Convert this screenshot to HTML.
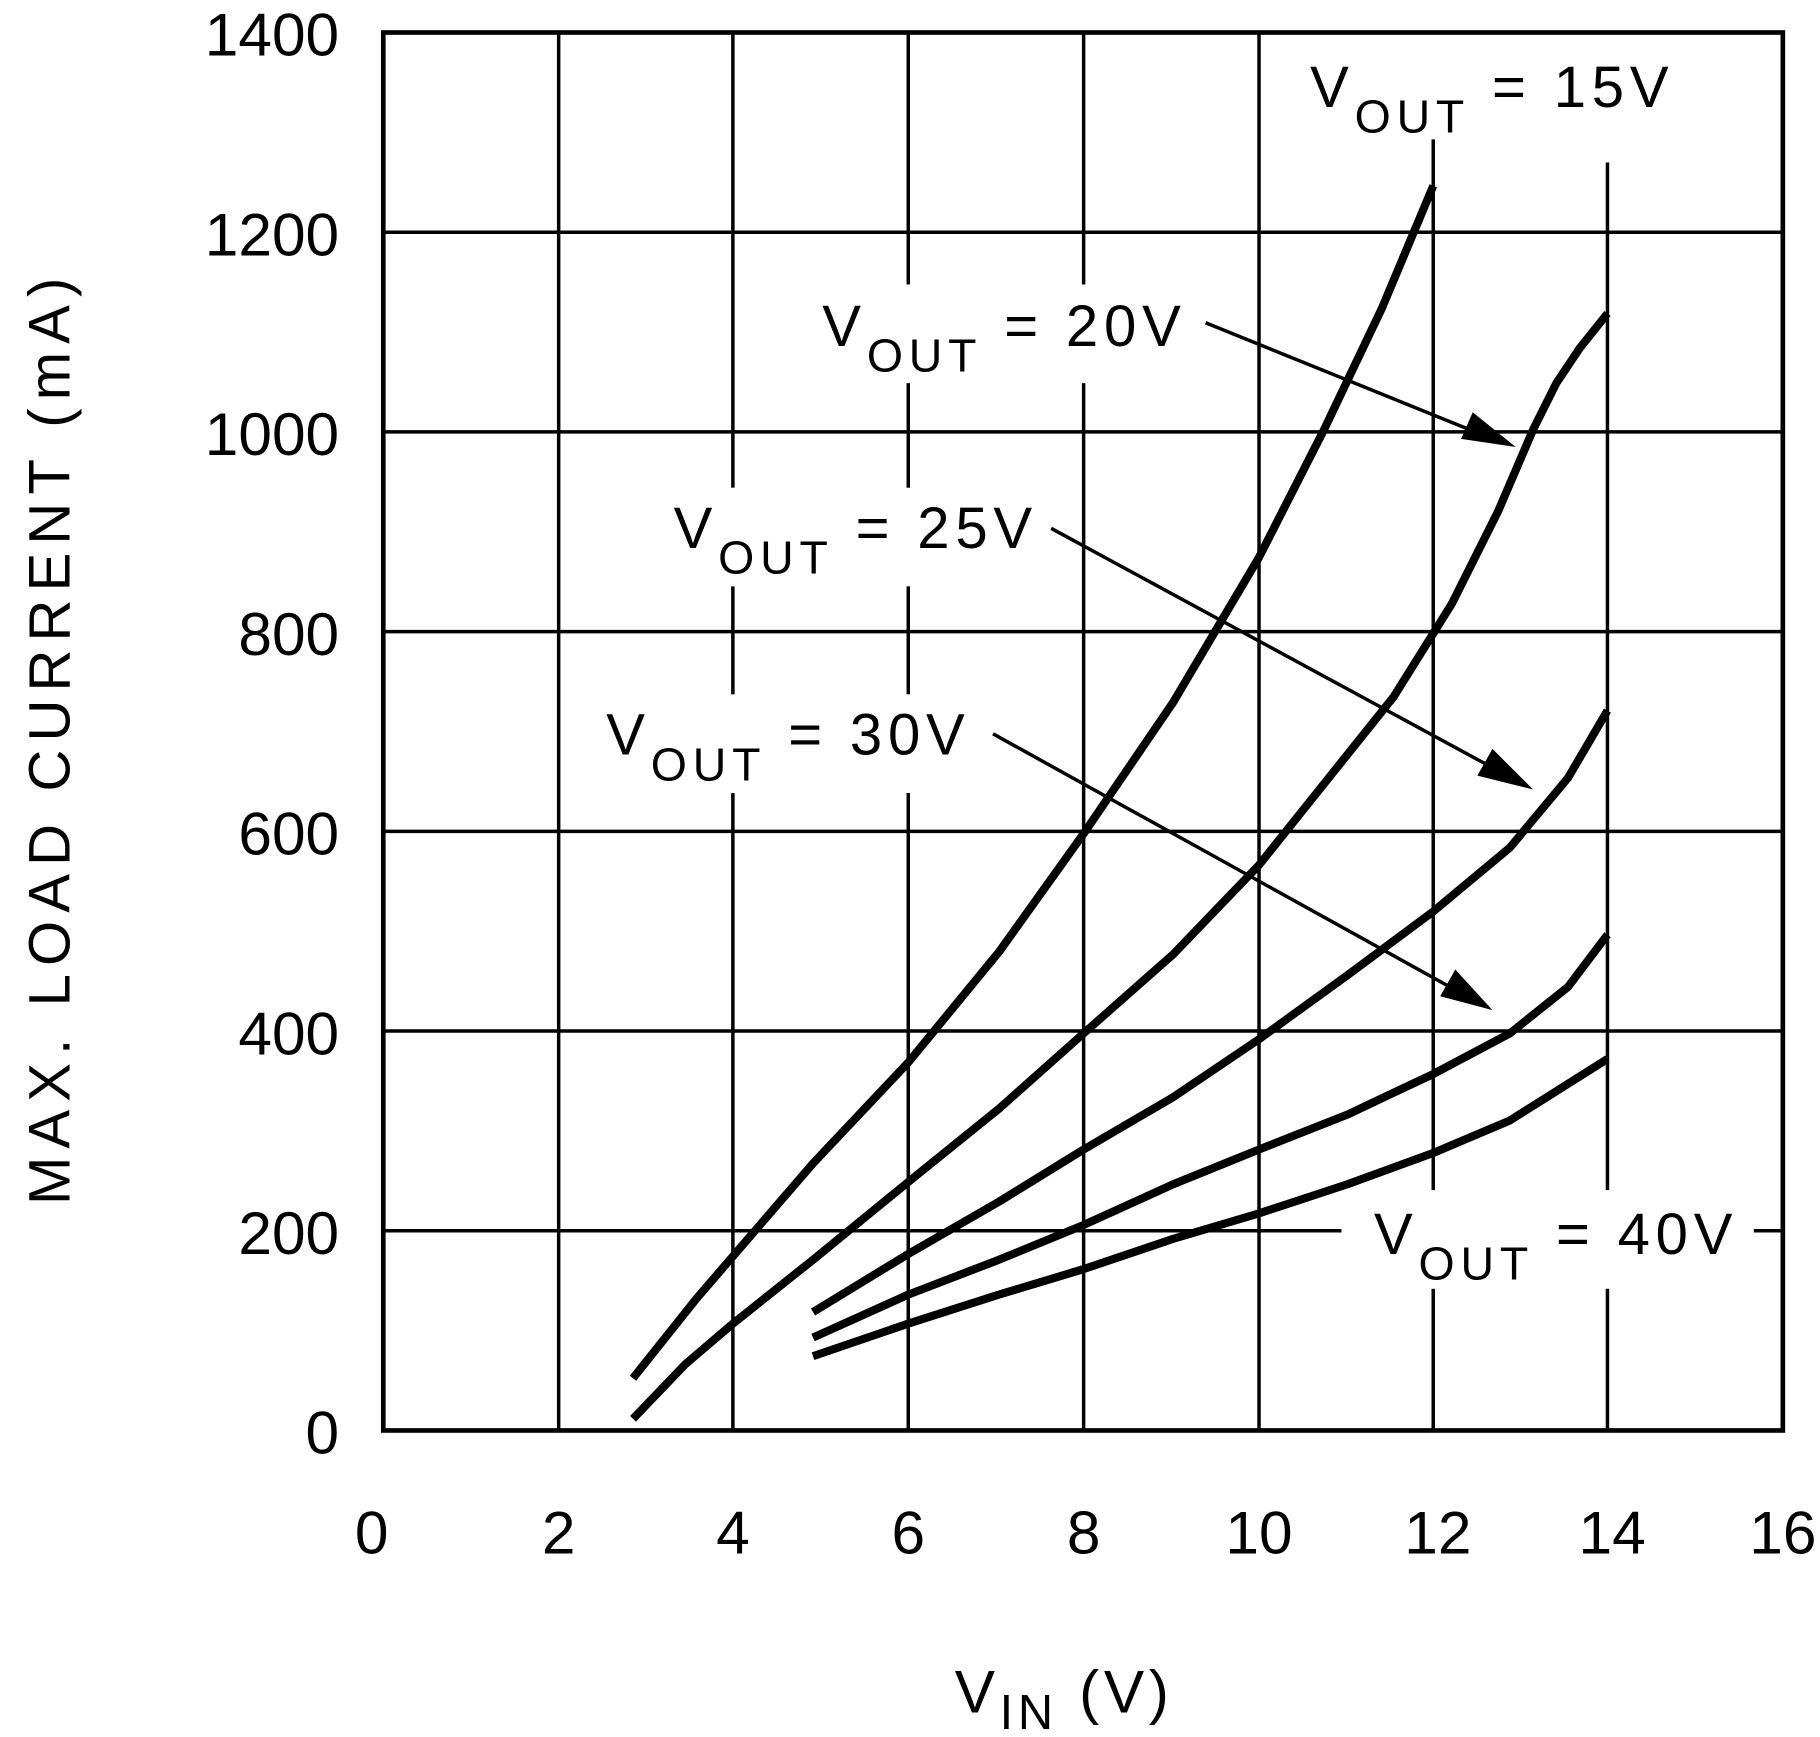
<!DOCTYPE html>
<html><head><meta charset="utf-8"><style>
html,body{margin:0;padding:0;background:#fff;}
svg{display:block;}
text{font-family:"Liberation Sans",sans-serif;fill:#000;}
</style></head><body>
<svg width="1820" height="1737" viewBox="0 0 1567 1496" preserveAspectRatio="none" xmlns="http://www.w3.org/2000/svg">
<rect width="1567" height="1496" fill="#fff"/>
<g stroke="#000" stroke-width="3" fill="none">
<line x1="481" y1="28" x2="481" y2="1232"/>
<line x1="631" y1="28" x2="631" y2="1232"/>
<line x1="782" y1="28" x2="782" y2="1232"/>
<line x1="933" y1="28" x2="933" y2="1232"/>
<line x1="1084" y1="28" x2="1084" y2="1232"/>
<line x1="1234" y1="115" x2="1234" y2="1232"/>
<line x1="1384" y1="140" x2="1384" y2="1232"/>
<line x1="330" y1="200" x2="1535" y2="200"/>
<line x1="330" y1="372" x2="1535" y2="372"/>
<line x1="330" y1="544" x2="1535" y2="544"/>
<line x1="330" y1="716" x2="1535" y2="716"/>
<line x1="330" y1="888" x2="1535" y2="888"/>
<line x1="330" y1="1060" x2="1535" y2="1060"/>
</g>
<g fill="#fff">
<rect x="1115" y="30" width="325" height="90"/>
<rect x="700" y="245" width="330" height="85"/>
<rect x="572" y="420" width="325" height="85"/>
<rect x="515" y="598" width="330" height="85"/>
<rect x="1155" y="1025" width="355" height="85"/>
</g>
<rect x="330" y="28" width="1205" height="1204" fill="none" stroke="#000" stroke-width="4"/>
<g stroke="#000" stroke-width="7" fill="none" stroke-linejoin="round">
<polyline points="545,1187 600,1118 700,1002 782,915 860,820 933,718 1010,605 1084,480 1140,370 1190,265 1234,160"/>
<polyline points="545,1222 590,1175 631,1140 700,1085 782,1018 860,955 933,890 1010,822 1084,745 1140,675 1200,600 1250,520 1290,440 1320,370 1340,330 1360,300 1384,270"/>
<polyline points="700,1130 782,1080 860,1035 933,990 1010,945 1084,895 1160,840 1234,785 1300,730 1350,670 1384,612"/>
<polyline points="700,1152 782,1115 860,1085 933,1055 1010,1020 1084,990 1160,960 1234,925 1300,890 1350,850 1384,805"/>
<polyline points="700,1168 782,1140 860,1115 933,1093 1010,1067 1084,1045 1160,1020 1234,993 1300,965 1384,912"/>
</g>
<g stroke="#000" stroke-width="3">
<line x1="1038" y1="278" x2="1290" y2="380"/>
<line x1="905" y1="455" x2="1305" y2="672"/>
<line x1="855" y1="632" x2="1270" y2="862"/>
</g>
<g fill="#000">
<polygon points="1305,385 1258,378 1268,355"/>
<polygon points="1320,680 1272,668 1285,645"/>
<polygon points="1285,870 1240,858 1253,835"/>
</g>
<g font-size="52" text-anchor="end">
<text x="292" y="1252">0</text>
<text x="292" y="1080">200</text>
<text x="292" y="908">400</text>
<text x="292" y="736">600</text>
<text x="292" y="564">800</text>
<text x="292" y="392">1000</text>
<text x="292" y="220">1200</text>
<text x="292" y="48">1400</text>
</g>
<g font-size="52" text-anchor="middle">
<text x="320" y="1338">0</text>
<text x="481" y="1338">2</text>
<text x="631" y="1338">4</text>
<text x="782" y="1338">6</text>
<text x="933" y="1338">8</text>
<text x="1084" y="1338">10</text>
<text x="1238" y="1338">12</text>
<text x="1388" y="1338">14</text>
<text x="1535" y="1338">16</text>
</g>
<text font-size="50" transform="translate(60,635) rotate(-90)" text-anchor="middle" letter-spacing="7">MAX. LOAD CURRENT (mA)</text>
<text font-size="52" x="822" y="1475" letter-spacing="4">V<tspan font-size="42" dy="14">IN</tspan><tspan dy="-14"> (V)</tspan></text>
<g font-size="50" letter-spacing="5">
<text x="1128" y="92">V<tspan font-size="40" dy="22">OUT</tspan><tspan dy="-22"> = 15V</tspan></text>
<text x="708" y="298">V<tspan font-size="40" dy="22">OUT</tspan><tspan dy="-22"> = 20V</tspan></text>
<text x="580" y="472">V<tspan font-size="40" dy="22">OUT</tspan><tspan dy="-22"> = 25V</tspan></text>
<text x="522" y="650">V<tspan font-size="40" dy="22">OUT</tspan><tspan dy="-22"> = 30V</tspan></text>
<text x="1183" y="1080">V<tspan font-size="40" dy="22">OUT</tspan><tspan dy="-22"> = 40V</tspan></text>
</g>
</svg>
</body></html>
